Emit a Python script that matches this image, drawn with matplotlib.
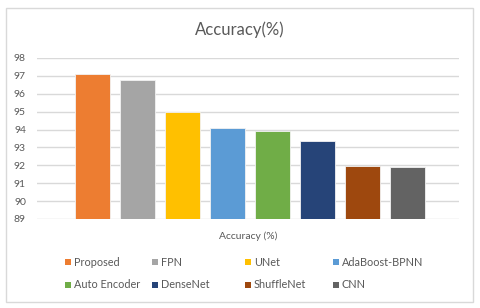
import matplotlib
matplotlib.use('Agg')
import matplotlib.pyplot as plt
from matplotlib.patches import Rectangle

#%% data
models = ['Proposed', 'FPN', 'UNet', 'AdaBoost-BPNN',
          'Auto Encoder', 'DenseNet', 'ShuffleNet', 'CNN']
accuracy = [97.1, 96.75, 94.97, 94.1, 93.9, 93.35, 91.99, 91.89]
colors = ['#ED7D31', '#A5A5A5', '#FFC000', '#5B9BD5',
          '#70AD47', '#264478', '#9E480E', '#636363']
yticks = [89, 90, 91, 92, 93, 94, 95, 96, 97, 98]

#%% style
plt.rcParams['font.family'] = ['Lato', 'DejaVu Sans']
txt = '#595959'
W, H = 480, 308

fig = plt.figure(figsize=(4.8, 3.08), dpi=100)
ax = fig.add_axes([37/W, 89/H, 422/W, 161/H])

x = list(range(len(models)))
ax.bar(x, [a - 89 for a in accuracy], bottom=89, width=0.78,
       color=colors, edgecolor='#F2F2F2', linewidth=0.6, zorder=3)

ax.set_ylim(89, 98)
ax.set_xlim(-1.23, 8.14)
ax.set_yticks(yticks)
ax.set_xticks([])
ax.yaxis.grid(True, color='#D9D9D9', linewidth=1.0, zorder=0)
for s in ax.spines.values():
    s.set_visible(False)
ax.tick_params(axis='y', length=0, labelsize=7.5, colors=txt, pad=8)

fig.text(0.5, 1 - 30/H, 'Accuracy(%)', ha='center', va='center',
         fontsize=12, color=txt)
fig.text(248/W, 1 - 236/H, 'Accuracy (%)', ha='center', va='center',
         fontsize=7.5, color=txt)

#%% legend, laid out row by row with equal columns like the original
col_x = [65, 152, 245, 333]
row_y = [262, 285]
for i, (name, c) in enumerate(zip(models, colors)):
    px = col_x[i % 4]
    py = row_y[i // 4]
    fig.patches.append(Rectangle((px/W, 1 - (py + 3)/H), 6/W, 6/H,
                                 transform=fig.transFigure,
                                 facecolor=c, edgecolor='none'))
    fig.text((px + 9)/W, 1 - py/H, name, ha='left', va='center',
             fontsize=7.8, color=txt)

# outer chart border
fig.patches.append(Rectangle((6/W, 1 - 302/H), 467/W, 294/H,
                             transform=fig.transFigure, fill=False,
                             edgecolor='#D9D9D9', linewidth=1.0))

plt.savefig('out.png', dpi=100, facecolor='white')
